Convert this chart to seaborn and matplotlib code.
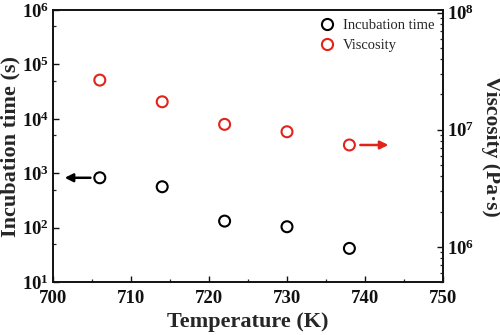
import numpy as np
import pandas as pd
import matplotlib
matplotlib.use("Agg")
import matplotlib.pyplot as plt
from matplotlib.lines import Line2D
from matplotlib.ticker import LogLocator, FuncFormatter, MultipleLocator, NullFormatter
import seaborn as sns

# Measured data
temperature = [706, 714, 722, 730, 738]          # K
incubation_time = [826, 565, 132, 104, 41.6]      # s
viscosity = [2.65e7, 1.73e7, 1.11e7, 9.6e6, 7.4e6]  # Pa·s

x_ticks = [700, 710, 720, 730, 740, 750]

sns.set_theme(style="ticks")
plt.rcParams["font.family"] = ["Liberation Serif", "DejaVu Serif"]
plt.rcParams["font.weight"] = "bold"
plt.rcParams["mathtext.fontset"] = "custom"
plt.rcParams["mathtext.rm"] = "Liberation Serif:bold"
plt.rcParams["mathtext.bf"] = "Liberation Serif:bold"
plt.rcParams["mathtext.it"] = "Liberation Serif:bold"

df = pd.DataFrame({"T": temperature, "t": incubation_time, "eta": viscosity})

fig = plt.figure(figsize=(5.0, 3.35), dpi=100)
ax = fig.add_axes([0.106, 0.158, 0.780, 0.812])
ax2 = ax.twinx()

red = "#e2231a"
sns.scatterplot(data=df, x="T", y="t", ax=ax, marker="o", s=62,
                facecolor="none", edgecolor="black", linewidth=1.5, zorder=3)
sns.scatterplot(data=df, x="T", y="eta", ax=ax2, marker="o", s=62,
                facecolor="none", edgecolor=red, linewidth=1.5, zorder=3)

ax.set_xlim(700, 750)
ax.set_yscale("log")
ax.set_ylim(10, 1e6)
ax2.set_yscale("log")
ax2.set_ylim(5e5, 1.05e8)

def pow10(v, pos):
    e = int(round(np.log10(v)))
    return r"$\mathbf{10^{%d}}$" % e

ax.set_xticks(x_ticks)
ax.xaxis.set_minor_locator(MultipleLocator(5))
ax.yaxis.set_major_locator(LogLocator(base=10, numticks=10))
ax.yaxis.set_minor_locator(LogLocator(base=10, subs=[5.0], numticks=10))
ax.yaxis.set_major_formatter(FuncFormatter(pow10))
ax.yaxis.set_minor_formatter(NullFormatter())
ax2.yaxis.set_major_locator(LogLocator(base=10, numticks=10))
ax2.yaxis.set_minor_locator(LogLocator(base=10, subs=np.arange(2, 10), numticks=20))
ax2.yaxis.set_major_formatter(FuncFormatter(pow10))
ax2.yaxis.set_minor_formatter(NullFormatter())

for a in (ax, ax2):
    a.tick_params(which="major", direction="in", length=4.5, width=1.0,
                  labelsize=13.5, colors="#111111", pad=3)
    a.tick_params(which="minor", direction="in", length=2.5, width=0.9)
    for sp in a.spines.values():
        sp.set_linewidth(1.2)
        sp.set_color("#111111")
ax.tick_params(axis="x", which="major", pad=6)
ax.tick_params(axis="y", which="both", left=True, right=False)
ax2.tick_params(axis="y", which="both", left=False, right=True)
for lbl in ax.get_xticklabels() + ax.get_yticklabels() + ax2.get_yticklabels():
    lbl.set_fontweight("bold")

ax.set_xlabel("Temperature (K)", fontsize=16, fontweight="bold", labelpad=3)
ax.set_ylabel("Incubation time (s)", fontsize=16, fontweight="bold", labelpad=1)
ax2.set_ylabel("Viscosity (Pa·s)", fontsize=15.5, fontweight="bold",
               rotation=270, labelpad=19)

# Arrows pointing to the corresponding axis
ax.annotate("", xy=(701.5, incubation_time[0]), xytext=(704.8, incubation_time[0]),
            arrowprops=dict(arrowstyle="-|>", color="black", lw=1.8,
                            mutation_scale=12, shrinkA=0, shrinkB=0))
ax2.annotate("", xy=(743.0, viscosity[-1]), xytext=(739.4, viscosity[-1]),
             arrowprops=dict(arrowstyle="-|>", color=red, lw=1.8,
                             mutation_scale=12, shrinkA=0, shrinkB=0))

handles = [
    Line2D([], [], marker="o", ls="none", mfc="none", mec="black", mew=1.5, ms=8),
    Line2D([], [], marker="o", ls="none", mfc="none", mec=red, mew=1.5, ms=8),
]
leg = ax2.legend(handles, ["Incubation time", "Viscosity"], loc="upper right",
                 frameon=False, fontsize=10.5, handletextpad=0.1,
                 borderaxespad=0.2, labelspacing=0.45)
for t in leg.get_texts():
    t.set_fontweight("normal")

fig.savefig("out.png", dpi=100)
